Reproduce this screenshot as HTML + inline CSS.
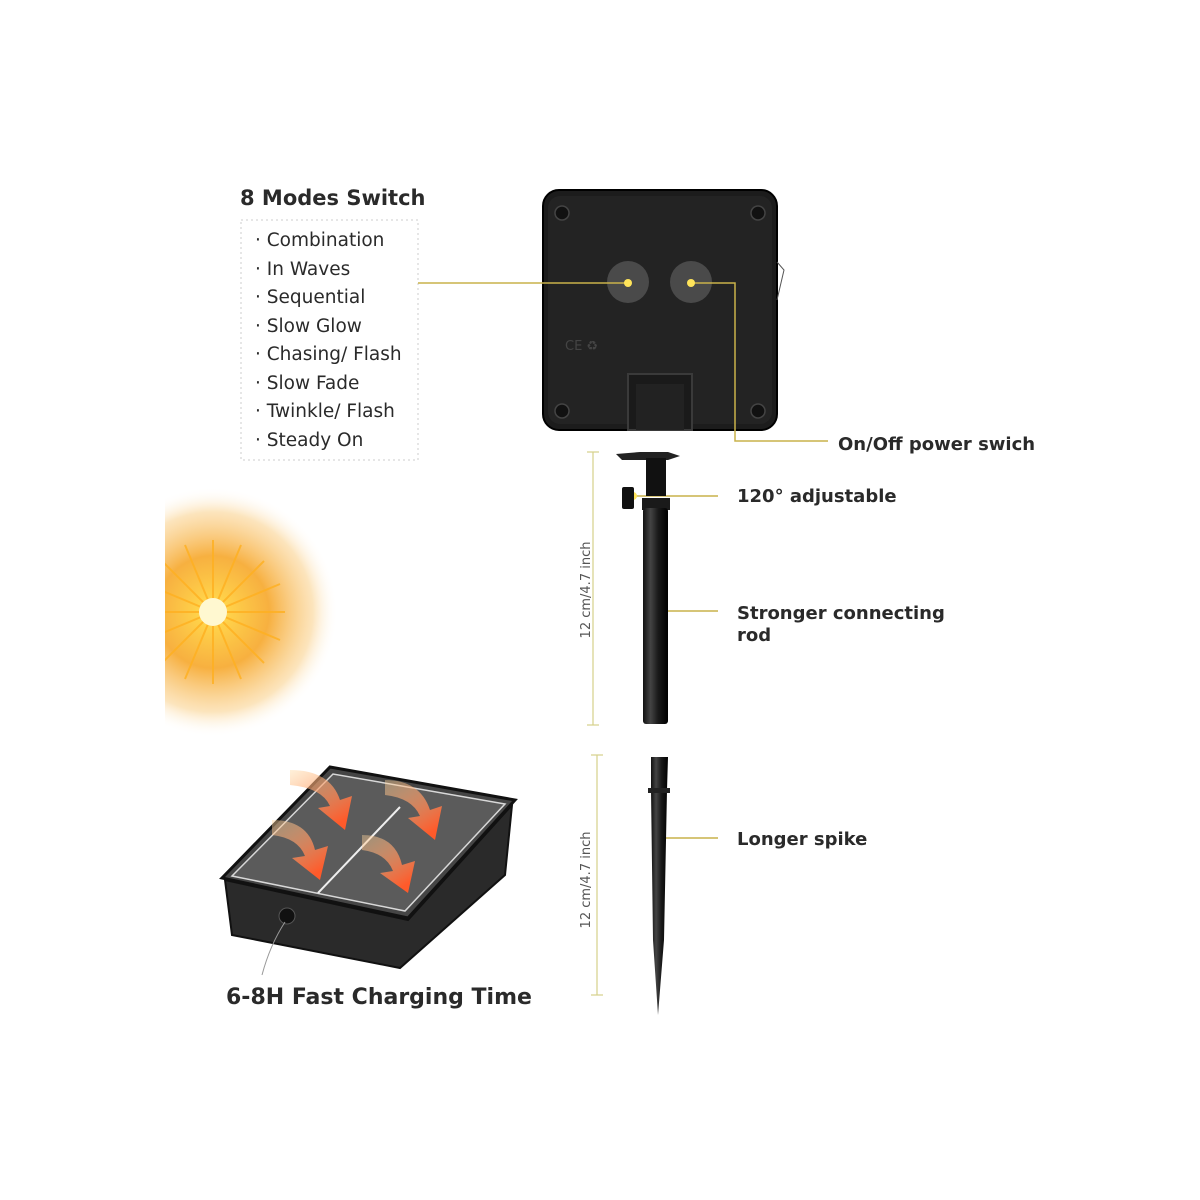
<!DOCTYPE html>
<html><head><meta charset="utf-8"><style>
html,body{margin:0;padding:0;background:#fff;}
svg{display:block;}
text{font-family:"DejaVu Sans","Liberation Sans",sans-serif;fill:#2a2a2a;}
</style></head><body>
<svg width="1200" height="1200" viewBox="0 0 1200 1200" xmlns="http://www.w3.org/2000/svg">
<defs>
<radialGradient id="sun" cx="0.5" cy="0.5" r="0.5">
<stop offset="0" stop-color="#fffbe0"/>
<stop offset="0.12" stop-color="#ffd24a"/>
<stop offset="0.45" stop-color="#f7b040"/>
<stop offset="0.8" stop-color="#fbd9a0" stop-opacity="0.7"/>
<stop offset="1" stop-color="#fff" stop-opacity="0"/>
</radialGradient>
<linearGradient id="rod" x1="0" x2="1">
<stop offset="0" stop-color="#111"/><stop offset="0.3" stop-color="#444"/><stop offset="0.6" stop-color="#1a1a1a"/><stop offset="1" stop-color="#000"/>
</linearGradient>
<linearGradient id="arr" x1="0" y1="0" x2="0.6" y2="1">
<stop offset="0" stop-color="#ffd9a0" stop-opacity="0.4"/><stop offset="1" stop-color="#ff5a2a"/>
</linearGradient>
<clipPath id="leftclip"><rect x="165" y="0" width="1035" height="1200"/></clipPath>
</defs>

<g clip-path="url(#leftclip)">
<circle cx="213" cy="612" r="125" fill="url(#sun)"/>
<g stroke="#ffb020" stroke-width="2" opacity="0.8">
<line x1="213" y1="540" x2="213" y2="684"/><line x1="141" y1="612" x2="285" y2="612"/>
<line x1="162" y1="561" x2="264" y2="663"/><line x1="162" y1="663" x2="264" y2="561"/>
<line x1="185" y1="545" x2="241" y2="679"/><line x1="146" y1="584" x2="280" y2="640"/>
<line x1="241" y1="545" x2="185" y2="679"/><line x1="146" y1="640" x2="280" y2="584"/>
</g>
<circle cx="213" cy="612" r="14" fill="#fff8d0"/>
</g>

<text x="240" y="205" font-size="21" font-weight="bold">8 Modes Switch</text>
<rect x="241" y="220" width="177" height="240" fill="none" stroke="#ccc" stroke-dasharray="2,3"/>
<g font-size="18.5">
<text x="255" y="246">· Combination</text>
<text x="255" y="275">· In Waves</text>
<text x="255" y="303">· Sequential</text>
<text x="255" y="332">· Slow Glow</text>
<text x="255" y="360">· Chasing/ Flash</text>
<text x="255" y="389">· Slow Fade</text>
<text x="255" y="417">· Twinkle/ Flash</text>
<text x="255" y="446">· Steady On</text>
</g>

<rect x="543" y="190" width="234" height="240" rx="16" fill="#1c1c1c" stroke="#000" stroke-width="2"/>
<rect x="548" y="196" width="224" height="228" rx="12" fill="#232323"/>
<path d="M777 262 L784 270 L777 300" stroke="#555" fill="none"/>
<g fill="#111" stroke="#444" stroke-width="1.5">
<circle cx="562" cy="213" r="7"/><circle cx="758" cy="213" r="7"/><circle cx="562" cy="411" r="7"/><circle cx="758" cy="411" r="7"/>
</g>
<circle cx="628" cy="282" r="21" fill="#4a4a4a"/><circle cx="691" cy="282" r="21" fill="#4a4a4a"/>
<text x="565" y="350" font-size="13" style="fill:#444">CE ♻</text>
<rect x="628" y="374" width="64" height="56" fill="#1a1a1a" stroke="#3a3a3a" stroke-width="2"/>
<rect x="636" y="384" width="48" height="46" fill="#222"/>

<g stroke="#c9b24a" stroke-width="1.5" fill="none">
<line x1="418" y1="283" x2="628" y2="283"/>
<polyline points="691,283 735,283 735,441 828,441"/>
<line x1="633" y1="496" x2="718" y2="496"/>
<line x1="660" y1="611" x2="718" y2="611"/>
<line x1="660" y1="838" x2="718" y2="838"/>
</g>
<g fill="#ffe45a"><circle cx="628" cy="283" r="4"/><circle cx="691" cy="283" r="4"/><circle cx="633" cy="496" r="4"/><circle cx="660" cy="611" r="4"/><circle cx="660" cy="838" r="4"/></g>

<g font-size="18" font-weight="bold">
<text x="838" y="450">On/Off power swich</text>
<text x="737" y="502">120°  adjustable</text>
<text x="737" y="619">Stronger connecting</text>
<text x="737" y="641">rod</text>
<text x="737" y="845">Longer spike</text>
</g>

<path d="M616 454 L640 452 L668 452 L680 456 L668 460 L622 460 Z" fill="#222"/>
<rect x="646" y="458" width="20" height="38" fill="#111"/>
<rect x="622" y="487" width="12" height="22" rx="2" fill="#111"/>
<rect x="642" y="498" width="28" height="12" fill="#1a1a1a"/>
<rect x="643" y="508" width="25" height="216" rx="3" fill="url(#rod)"/>
<path d="M651 757 L668 757 L667 790 L664 940 L658 1015 L653 940 L651 790 Z" fill="url(#rod)"/>
<rect x="648" y="788" width="22" height="5" fill="#222"/>

<g stroke="#d6d08a" stroke-width="1.2">
<line x1="593" y1="452" x2="593" y2="725"/><line x1="587" y1="452" x2="599" y2="452"/><line x1="587" y1="725" x2="599" y2="725"/>
<line x1="597" y1="755" x2="597" y2="995"/><line x1="591" y1="755" x2="603" y2="755"/><line x1="591" y1="995" x2="603" y2="995"/>
</g>
<text transform="translate(590,590) rotate(-90)" font-size="13" text-anchor="middle" style="fill:#555">12 cm/4.7 inch</text>
<text transform="translate(590,880) rotate(-90)" font-size="13" text-anchor="middle" style="fill:#555">12 cm/4.7 inch</text>

<path d="M225 880 L232 935 L400 968 L505 875 L512 805 L408 920 Z" fill="#2a2a2a" stroke="#111" stroke-width="2"/>
<path d="M222 878 L330 767 L515 800 L408 918 Z" fill="#454545" stroke="#111" stroke-width="3"/>
<path d="M232 876 L333 774 L505 804 L405 911 Z" fill="#5b5b5b" stroke="#d8d8d8" stroke-width="1.5"/>
<line x1="318" y1="893" x2="400" y2="807" stroke="#eee" stroke-width="2"/>
<circle cx="287" cy="916" r="8" fill="#111" stroke="#555"/>
<path d="M285 922 Q270 945 262 975" stroke="#999" fill="none"/>
<g fill="url(#arr)">
<path d="M290 770 Q330 770 340 800 L352 796 L345 830 L318 808 L330 806 Q322 788 290 785 Z"/>
<path d="M385 780 Q420 780 430 810 L442 806 L435 840 L408 818 L420 816 Q412 798 385 795 Z"/>
<path d="M272 820 Q308 820 315 850 L328 846 L320 880 L292 858 L305 856 Q298 838 272 835 Z"/>
<path d="M362 835 Q395 835 402 865 L415 861 L408 893 L380 873 L393 871 Q386 853 362 850 Z"/>
</g>
<text x="226" y="1004" font-size="22" font-weight="bold">6-8H Fast Charging Time</text>
</svg>
</body></html>
